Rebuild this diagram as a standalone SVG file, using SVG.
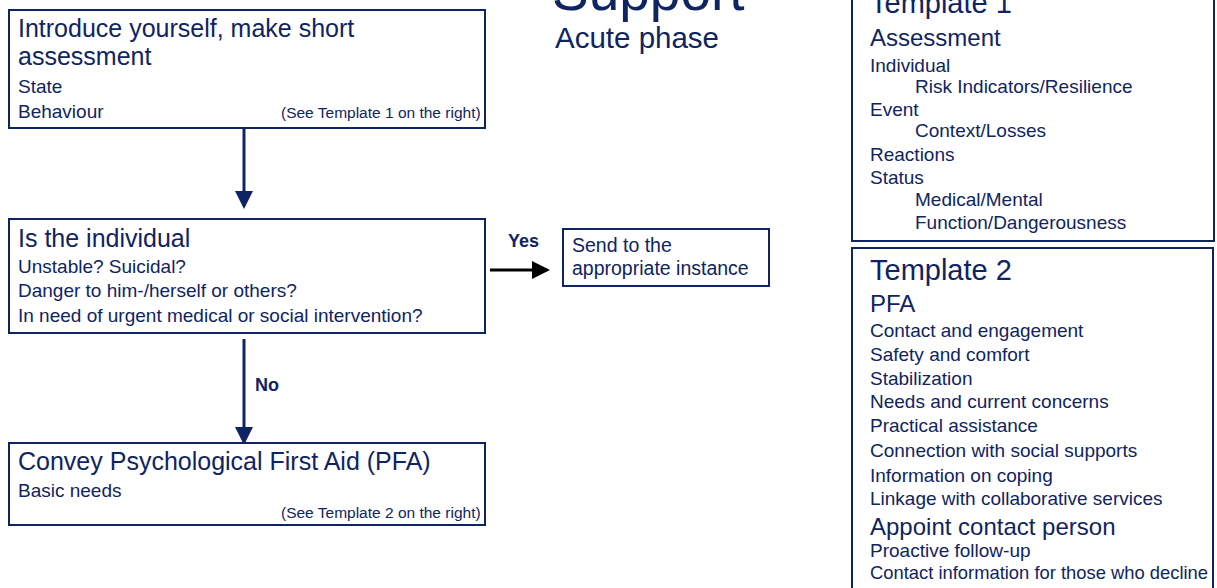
<svg xmlns="http://www.w3.org/2000/svg" width="1217" height="588" viewBox="0 0 1217 588">
<style>
text{font-family:"Liberation Sans",Arial,sans-serif;fill:#0f2462}
.box{fill:#fff;stroke:#0f2462;stroke-width:2}
.h{font-size:25px}
.s{font-size:19px}
.n{font-size:15.5px}
.b{font-weight:bold;font-size:18px}
.t{font-size:29px}
.m{font-size:24px}
</style>
<defs>
<marker id="ah" markerWidth="6" markerHeight="6" refX="5" refY="3" orient="auto" markerUnits="strokeWidth"><path d="M0,0 L6,3 L0,6 Z" fill="#0f2462"/></marker>
<marker id="ak" markerWidth="6" markerHeight="6" refX="5" refY="3" orient="auto" markerUnits="strokeWidth"><path d="M0,0 L6,3 L0,6 Z" fill="#000"/></marker>
</defs>
<g id="title">
<text x="552" y="10" style="font-size:55px">Support</text>
<text x="555" y="48" style="font-size:29.5px">Acute phase</text>
</g>
<g id="connectors">
<line x1="244" y1="129" x2="244" y2="206" stroke="#0f2462" stroke-width="3" marker-end="url(#ah)"/>
<line x1="244" y1="339" x2="244" y2="442" stroke="#0f2462" stroke-width="3" marker-end="url(#ah)"/>
<line x1="490" y1="270" x2="547" y2="270" stroke="#000" stroke-width="3" marker-end="url(#ak)"/>
<text class="b" x="508" y="247">Yes</text>
<text class="b" x="255" y="391">No</text>
</g>
<g id="node-introduce">
<rect class="box" x="9" y="10" width="476" height="118"/>
<text class="h" x="18" y="37">Introduce yourself, make short</text>
<text class="h" x="18" y="65">assessment</text>
<text class="s" x="18" y="93">State</text>
<text class="s" x="18" y="118">Behaviour</text>
<text class="n" x="281" y="118">(See Template 1 on the right)</text>
</g>
<g id="node-is">
<rect class="box" x="9" y="219" width="476" height="114"/>
<text class="h" x="18" y="247">Is the individual</text>
<text class="s" x="18" y="273">Unstable? Suicidal?</text>
<text class="s" x="18" y="297">Danger to  him-/herself or others?</text>
<text class="s" x="18" y="322">In need of urgent medical or social intervention?</text>
</g>
<g id="node-send">
<rect class="box" x="563" y="229" width="206" height="57"/>
<text class="s" x="572" y="252" style="font-size:19.5px">Send to the</text>
<text class="s" x="572" y="275" style="font-size:19.5px">appropriate instance</text>
</g>
<g id="node-convey">
<rect class="box" x="9" y="443" width="476" height="82"/>
<text class="h" x="18" y="470">Convey Psychological First Aid (PFA)</text>
<text class="s" x="18" y="497">Basic needs</text>
<text class="n" x="281" y="518">(See Template 2 on the right)</text>
</g>
<g id="node-template1">
<rect class="box" x="852" y="-5" width="362" height="246"/>
<text class="t" x="870" y="13">Template 1</text>
<text class="m" x="870" y="46">Assessment</text>
<text class="s" x="870" y="72">Individual</text>
<text class="s" x="915" y="93">Risk Indicators/Resilience</text>
<text class="s" x="870" y="116">Event</text>
<text class="s" x="915" y="137">Context/Losses</text>
<text class="s" x="870" y="161">Reactions</text>
<text class="s" x="870" y="184">Status</text>
<text class="s" x="915" y="206">Medical/Mental</text>
<text class="s" x="915" y="229">Function/Dangerousness</text>
</g>
<g id="node-template2">
<rect class="box" x="852" y="248" width="361" height="350"/>
<text class="t" x="870" y="280">Template 2</text>
<text class="m" x="870" y="312">PFA</text>
<text class="s" x="870" y="337">Contact and engagement</text>
<text class="s" x="870" y="361">Safety and comfort</text>
<text class="s" x="870" y="385">Stabilization</text>
<text class="s" x="870" y="408">Needs and current concerns</text>
<text class="s" x="870" y="432">Practical assistance</text>
<text class="s" x="870" y="457">Connection with social supports</text>
<text class="s" x="870" y="482">Information on coping</text>
<text class="s" x="870" y="505">Linkage with collaborative services</text>
<text class="m" x="870" y="535">Appoint contact person</text>
<text class="s" x="870" y="557">Proactive follow-up</text>
<text class="s" x="870" y="579" textLength="338" lengthAdjust="spacingAndGlyphs">Contact information for those who decline</text>
</g>
</svg>
